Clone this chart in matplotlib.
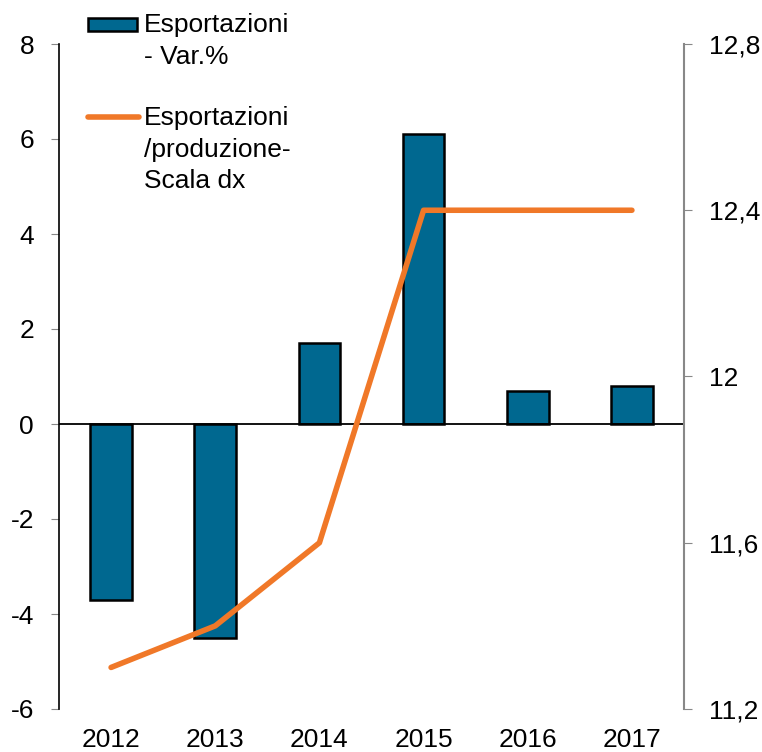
import matplotlib.pyplot as plt
from matplotlib.patches import Rectangle
from matplotlib.lines import Line2D

plt.rcParams['font.family'] = ['Liberation Sans', 'DejaVu Sans']

years = ['2012', '2013', '2014', '2015', '2016', '2017']
export_var = [-3.7, -4.5, 1.7, 6.1, 0.7, 0.8]
export_prod = [11.3, 11.4, 11.6, 12.4, 12.4, 12.4]
left_ticks = [-6, -4, -2, 0, 2, 4, 6, 8]
right_ticks = [11.2, 11.6, 12.0, 12.4, 12.8]
right_labels = ['11,2', '11,6', '12', '12,4', '12,8']

bar_color = '#006890'
line_color = '#F07828'
fs = 19

fig = plt.figure(figsize=(7.62, 7.52), dpi=100)
ax = fig.add_axes([59 / 762, 1 - 709 / 752, 625 / 762, 665 / 752])
x = range(len(years))
ax.bar(x, export_var, width=0.4, color=bar_color, edgecolor='black', linewidth=1.8, zorder=2)
ax.axhline(0, color='black', linewidth=1.3, zorder=3)
ax.set_xlim(-0.5, len(years) - 0.5)
ax.set_ylim(-6, 8)
ax.set_yticks(left_ticks)
ax.set_yticklabels([str(t) for t in left_ticks])
ax.set_xticks(list(x))
ax.set_xticklabels(years)
ax.tick_params(axis='x', length=0, pad=14, labelsize=fs)
ax.tick_params(axis='y', length=6, color='#888888', pad=12, labelsize=fs)
for s in ['top', 'bottom', 'right']:
    ax.spines[s].set_visible(False)
ax.spines['left'].set_color('black')
ax.spines['left'].set_linewidth(1.2)

ax2 = ax.twinx()
ax2.plot(x, export_prod, color=line_color, linewidth=4, solid_capstyle='round', zorder=4)
ax2.set_ylim(11.2, 12.8)
ax2.set_yticks(right_ticks)
ax2.set_yticklabels(right_labels)
ax2.tick_params(axis='y', length=6, color='#888888', pad=12, labelsize=fs)
for s in ['top', 'bottom', 'left']:
    ax2.spines[s].set_visible(False)
ax2.spines['right'].set_color('#888888')
ax2.spines['right'].set_linewidth(1.5)

# legend drawn by hand so the handles sit on the first text line
W, H = 762, 752
fig.patches.append(Rectangle((88 / W, 1 - 31 / H), 49 / W, 13 / H, transform=fig.transFigure,
                             facecolor=bar_color, edgecolor='black', linewidth=1.8))
fig.lines.append(Line2D([88 / W, 139 / W], [1 - 117 / H, 1 - 117 / H], transform=fig.transFigure,
                        color=line_color, linewidth=4, solid_capstyle='round'))
fig.text(144 / W, 1 - 13 / H, 'Esportazioni\n- Var.%', fontsize=fs, va='top', ha='left', linespacing=1.4)
fig.text(144 / W, 1 - 106 / H, 'Esportazioni\n/produzione-\nScala dx', fontsize=fs, va='top', ha='left',
         linespacing=1.4)

fig.savefig('out.png', dpi=100)
